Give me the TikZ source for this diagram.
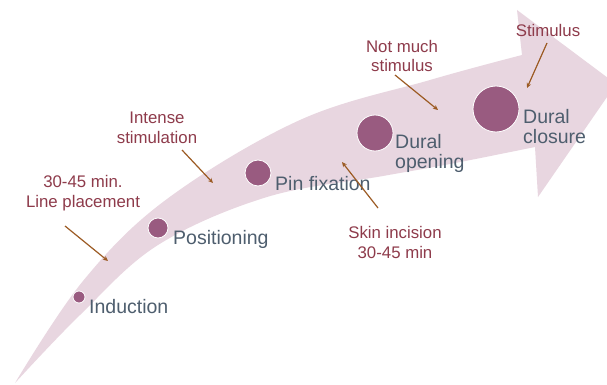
\documentclass[tikz,border=0pt]{standalone}
\usepackage{fontspec}
\setmainfont{Liberation Sans}
\usetikzlibrary{arrows.meta}
\definecolor{bandpink}{HTML}{E8D6E0}
\definecolor{dotmauve}{HTML}{995B80}
\definecolor{slatetext}{HTML}{4E5E6E}
\definecolor{redtext}{HTML}{8E3B4B}
\definecolor{pointer}{HTML}{9C5B24}
\tikzset{
  stage/.style={font=\fontsize{19.5}{19.5}\selectfont, text=slatetext, align=left, inner sep=0pt, anchor=base west},
  note/.style={font=\fontsize{16.8}{19.5}\selectfont, text=redtext, align=center, inner sep=0pt, anchor=base},
  stagedot/.style={circle, fill=dotmauve, draw=white, line width=0.8pt, inner sep=0pt},
  pointerarrow/.style={draw=pointer, line width=1.2pt, -{Stealth[length=5pt,width=4.5pt]}}
}
\begin{document}
\begin{tikzpicture}[x=1pt,y=-1pt]
\useasboundingbox (0,0) rectangle (607,385);
\fill[white] (0,0) rectangle (607,385);
\begin{scope}
\clip (0,0) rectangle (607,385);
\fill[bandpink] (15,383) -- plot[smooth, tension=0.6] coordinates {(15,383) (83,281) (167,199) (300,120) (430,80) (522,55)}
  -- (517,10) -- (616,84) -- (538,197) -- (535,147)
  -- plot[smooth, tension=0.6] coordinates {(535,147) (450,164) (383,176) (267,197) (158,245) (80,315) (15,383)} -- cycle;
\end{scope}

% stage dots
\node[stagedot, minimum size=12pt] (d1) at (79,297) {};
\node[stagedot, minimum size=20pt] (d2) at (158,228) {};
\node[stagedot, minimum size=26pt] (d3) at (258,173) {};
\node[stagedot, minimum size=36pt] (d4) at (375,133) {};
\node[stagedot, minimum size=46pt] (d5) at (496,109) {};

% stage labels (anchor = baseline of last line)
\node[stage] (l1) at (89,313) {Induction};
\node[stage] (l2) at (173,244) {Positioning};
\node[stage] (l3) at (275,190) {Pin fixation};
\node[stage] (l4) at (395,168) {Dural\\opening};
\node[stage] (l5) at (523,143) {Dural\\closure};

% notes (anchor = baseline of last line)
\node[note] (n1) at (83,207) {30-45 min.\\Line placement};
\node[note] (n2) at (157,143) {Intense\\stimulation};
\node[note] (n3) at (402,72) {Not much\\stimulus};
\node[note] (n4) at (548,37) {Stimulus};
\node[note] (n5) at (395,258) {Skin incision\\30-45 min};

% pointer arrows
\coordinate (p1s) at (65,226);  \coordinate (p1e) at (108,261);
\coordinate (p2s) at (182,150); \coordinate (p2e) at (213,183);
\coordinate (p3s) at (395,75);  \coordinate (p3e) at (438,110);
\coordinate (p4s) at (547,43);  \coordinate (p4e) at (527,88);
\coordinate (p5s) at (378,208); \coordinate (p5e) at (342,162);
\draw[pointerarrow] (p1s) -- (p1e);
\draw[pointerarrow] (p2s) -- (p2e);
\draw[pointerarrow] (p3s) -- (p3e);
\draw[pointerarrow] (p4s) -- (p4e);
\draw[pointerarrow] (p5s) -- (p5e);
\end{tikzpicture}
\end{document}
